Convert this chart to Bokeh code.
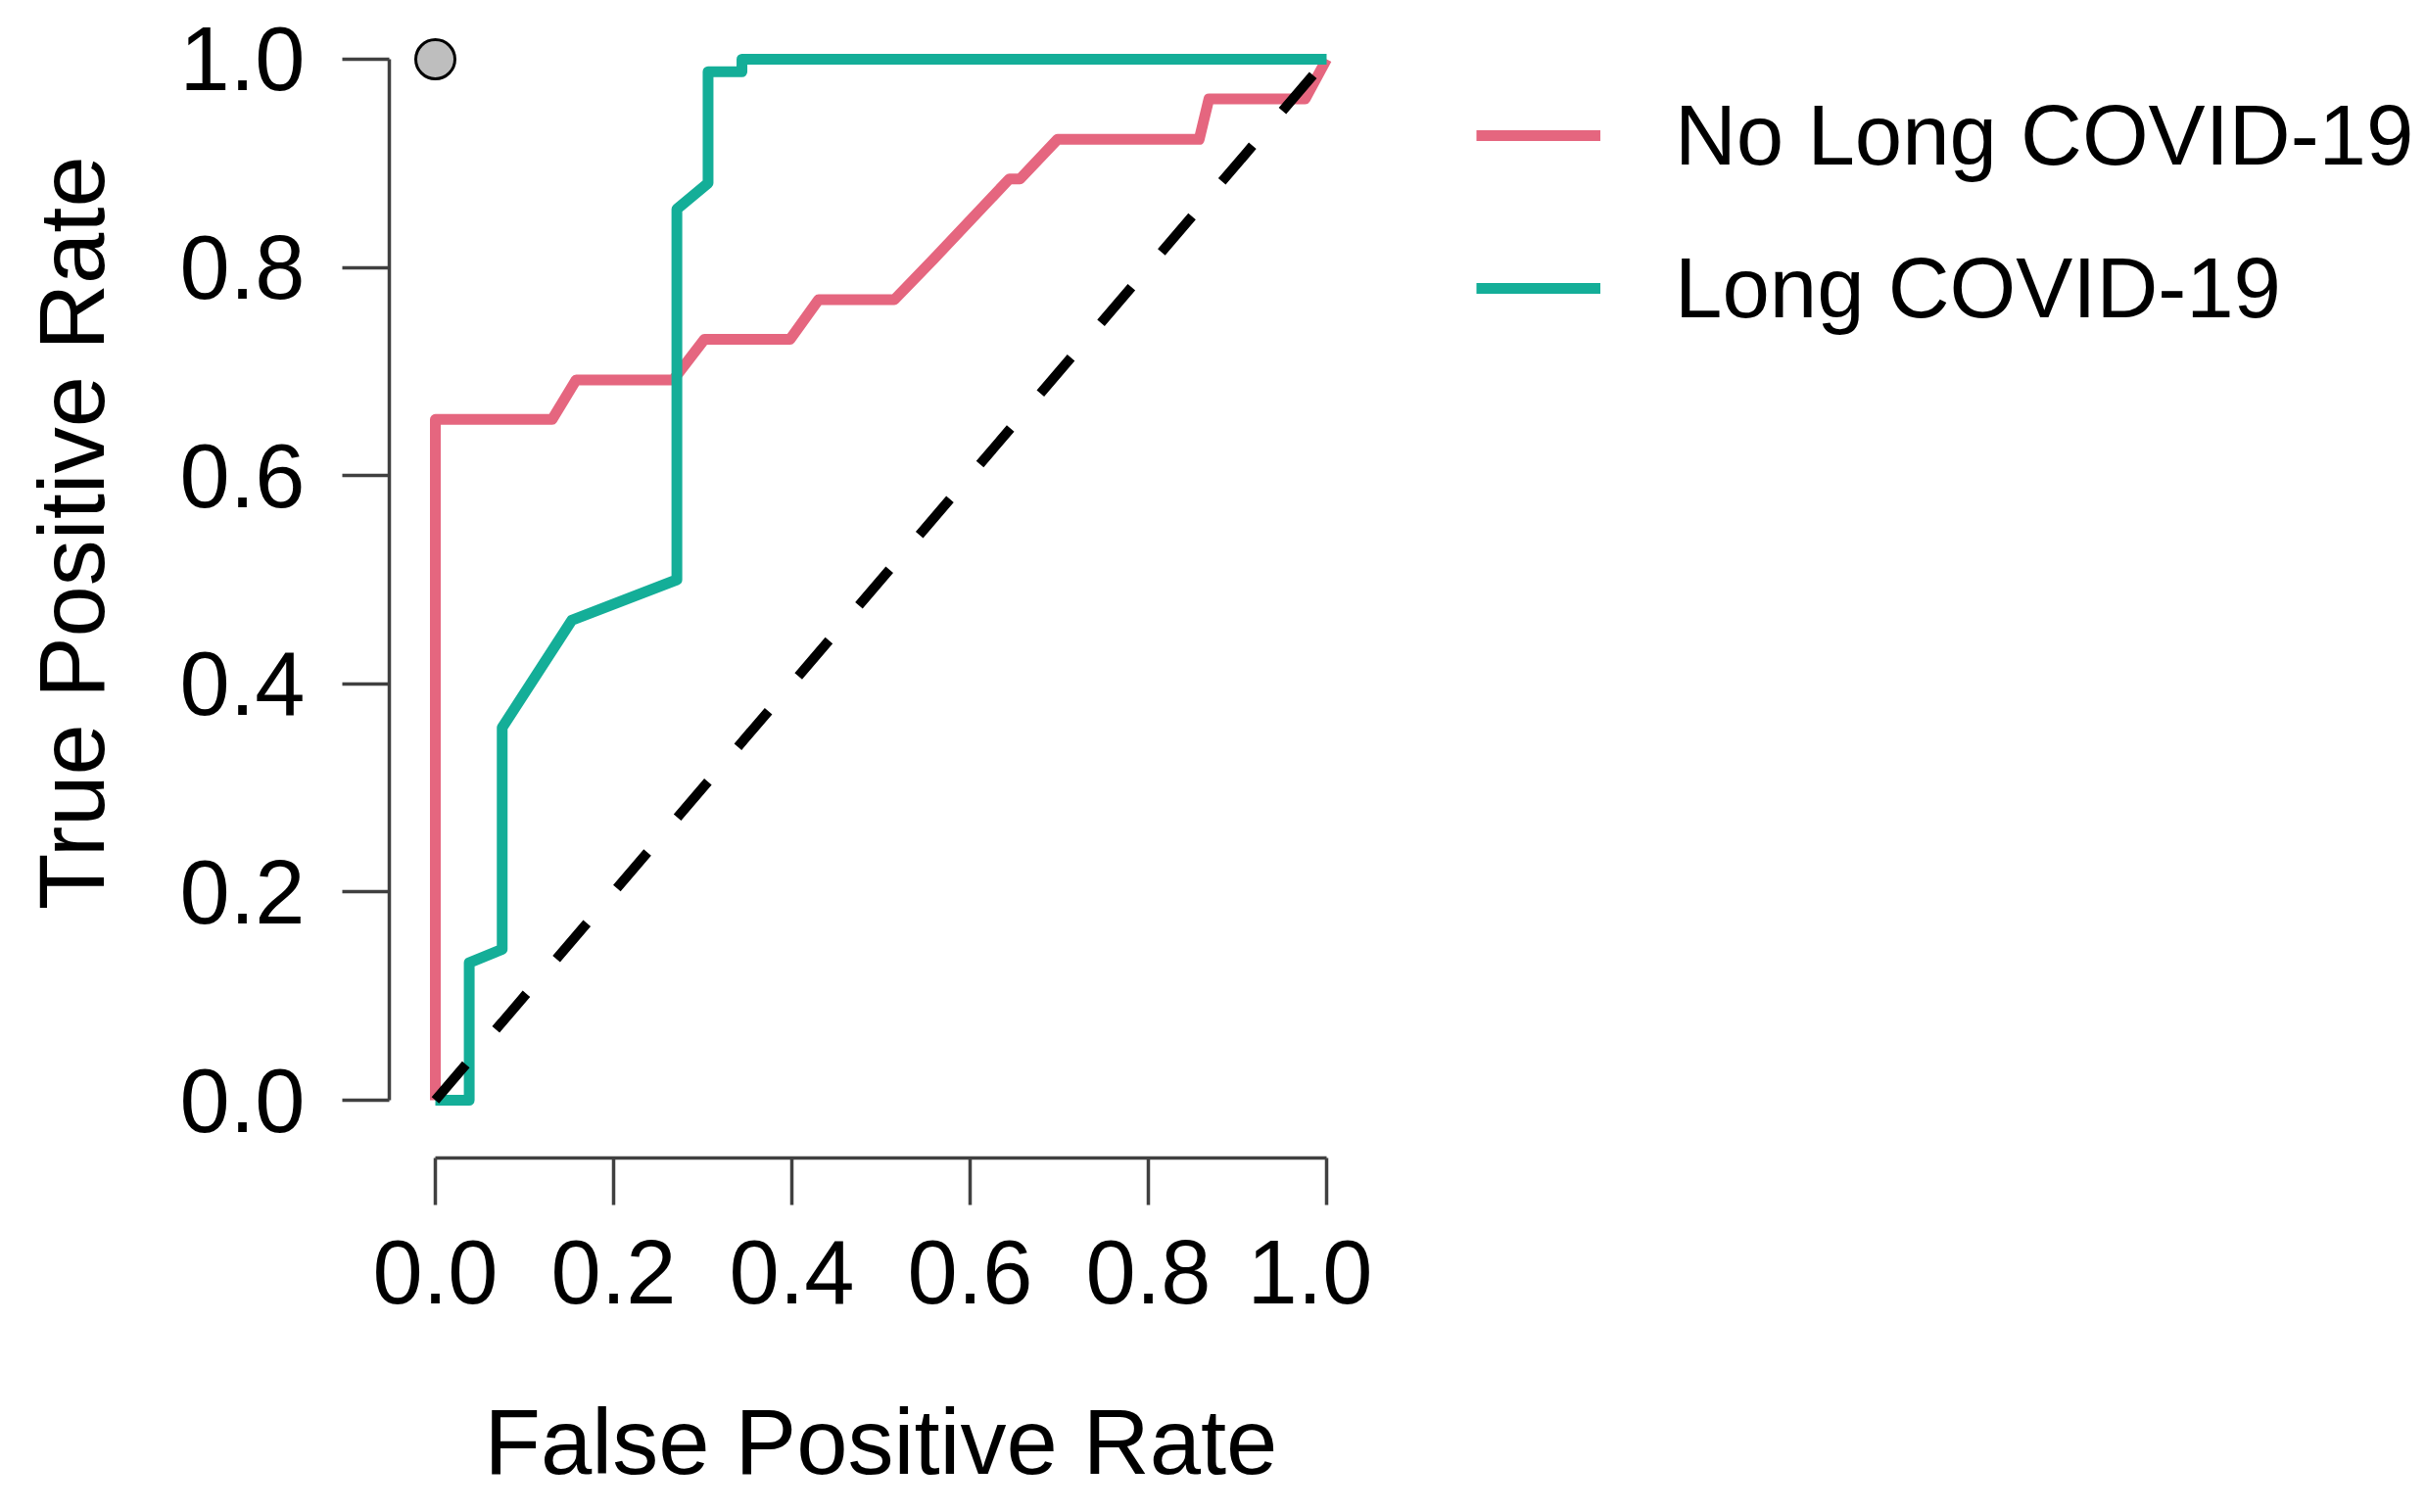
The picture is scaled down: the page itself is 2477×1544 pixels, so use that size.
import math
from bokeh.plotting import figure
from bokeh.layouts import row
from bokeh.models import Range1d, FixedTicker, Legend, LegendItem, Label
from bokeh.embed import file_html
from bokeh.resources import INLINE

# ---- data ----
no_long_fpr = [0.0, 0.0, 0.131, 0.158, 0.267, 0.302, 0.398, 0.430, 0.515, 0.559, 0.644, 0.656, 0.698, 0.857, 0.868, 0.976, 1.0]
no_long_tpr = [0.0, 0.654, 0.654, 0.692, 0.692, 0.731, 0.731, 0.769, 0.769, 0.808, 0.885, 0.885, 0.923, 0.923, 0.962, 0.962, 1.0]

long_fpr = [0.0, 0.038, 0.038, 0.075, 0.075, 0.153, 0.271, 0.271, 0.306, 0.306, 0.344, 0.344, 1.0]
long_tpr = [0.0, 0.0, 0.132, 0.145, 0.358, 0.461, 0.500, 0.856, 0.881, 0.988, 0.988, 1.0, 1.0]

chance_fpr = [0.0, 1.0]
chance_tpr = [0.0, 1.0]

best_fpr = [0.0]
best_tpr = [1.0]

series_names = ["No Long COVID-19", "Long COVID-19"]
tick_values = [0.0, 0.2, 0.4, 0.6, 0.8, 1.0]
tick_labels = ["0.0", "0.2", "0.4", "0.6", "0.8", "1.0"]
x_title = "False Positive Rate"
y_title = "True Positive Rate"

PINK = "#E5667F"
TEAL = "#14AE98"
FONT = "Liberation Sans"

H = 1540
W_TITLE = 150          # strip holding the y-axis title
W_MAIN = 1251          # ROC panel (frame from page x 397 to 1401)
W_LEG = 1069           # legend strip
FRAME_BOTTOM = 1182

y_rng = Range1d(-0.0555, 1.05644)

# ---------- y-axis title strip (frames of a row are aligned) ----------
p_y = figure(width=W_TITLE, height=H, output_backend="svg", toolbar_location=None,
             x_axis_type=None, y_axis_type=None,
             x_range=Range1d(0, W_TITLE), y_range=y_rng,
             min_border_left=0, min_border_right=0, min_border_top=0,
             min_border_bottom=H - FRAME_BOTTOM)
p_y.outline_line_color = None
p_y.add_layout(Label(x=73, y=0.545, angle=math.pi / 2, text=y_title,
                     text_align="center", text_baseline="alphabetic",
                     text_font=FONT, text_font_size="94px", text_color="black"))

# ---------- main ROC panel ----------
p = figure(width=W_MAIN, height=H, output_backend="svg", toolbar_location=None,
           x_range=Range1d(-0.05165, 1.05165), y_range=y_rng,
           min_border_left=397 - W_TITLE, min_border_right=0, min_border_top=0,
           min_border_bottom=H - FRAME_BOTTOM)
p.outline_line_color = None
p.xgrid.visible = False
p.ygrid.visible = False

for ax in (p.xaxis[0], p.yaxis[0]):
    ax.bounds = (0, 1)
    ax.ticker = FixedTicker(ticks=tick_values)
    ax.major_label_overrides = {v: l for v, l in zip(tick_values, tick_labels)}
    ax.minor_tick_line_color = None
    ax.major_tick_in = 0
    ax.major_tick_out = 48
    ax.axis_line_width = 3.5
    ax.axis_line_color = "#404040"
    ax.major_tick_line_width = 3.5
    ax.major_tick_line_color = "#404040"
    ax.major_label_text_font = FONT
    ax.major_label_text_font_size = "92px"
    ax.major_label_text_color = "black"
    ax.axis_label_text_font = FONT
    ax.axis_label_text_font_size = "94px"
    ax.axis_label_text_font_style = "normal"
    ax.axis_label_text_color = "black"

p.xaxis[0].axis_label = x_title
p.yaxis[0].major_label_standoff = 38
p.xaxis[0].major_label_standoff = 36
p.yaxis[0].major_label_orientation = "horizontal"
p.xaxis[0].axis_label_standoff = 86

p.line(no_long_fpr, no_long_tpr, line_color=PINK, line_width=11,
       line_join="round", line_cap="butt")
p.line(long_fpr, long_tpr, line_color=TEAL, line_width=11,
       line_join="round", line_cap="butt")
p.line(chance_fpr, chance_tpr, line_color="black", line_width=10, line_dash="48 47")
p.scatter(best_fpr, best_tpr, size=40, fill_color="#BEBEBE", line_color="black", line_width=3)

# ---------- legend strip ----------
p_leg = figure(width=W_LEG, height=H, output_backend="svg", toolbar_location=None,
               x_axis_type=None, y_axis_type=None,
               x_range=Range1d(10, 11), y_range=y_rng,
               min_border_left=0, min_border_right=0, min_border_top=0,
               min_border_bottom=H - FRAME_BOTTOM)
p_leg.outline_line_color = None
lr_no = p_leg.line(no_long_fpr, no_long_tpr, line_color=PINK, line_width=11, line_cap="butt")
lr_long = p_leg.line(long_fpr, long_tpr, line_color=TEAL, line_width=11, line_cap="butt")
legend = Legend(items=[LegendItem(label=series_names[0], renderers=[lr_no]),
                       LegendItem(label=series_names[1], renderers=[lr_long])],
                location=(106, FRAME_BOTTOM - 354), orientation="vertical",
                glyph_width=127, glyph_height=120, label_height=120,
                spacing=36, padding=0, margin=0, label_standoff=76,
                border_line_color=None, background_fill_alpha=0,
                label_text_font=FONT, label_text_font_size="87px",
                label_text_color="black")
p_leg.add_layout(legend)

layout = row(p_y, p, p_leg, spacing=0)
open("out.html", "w").write(file_html(layout, INLINE))
